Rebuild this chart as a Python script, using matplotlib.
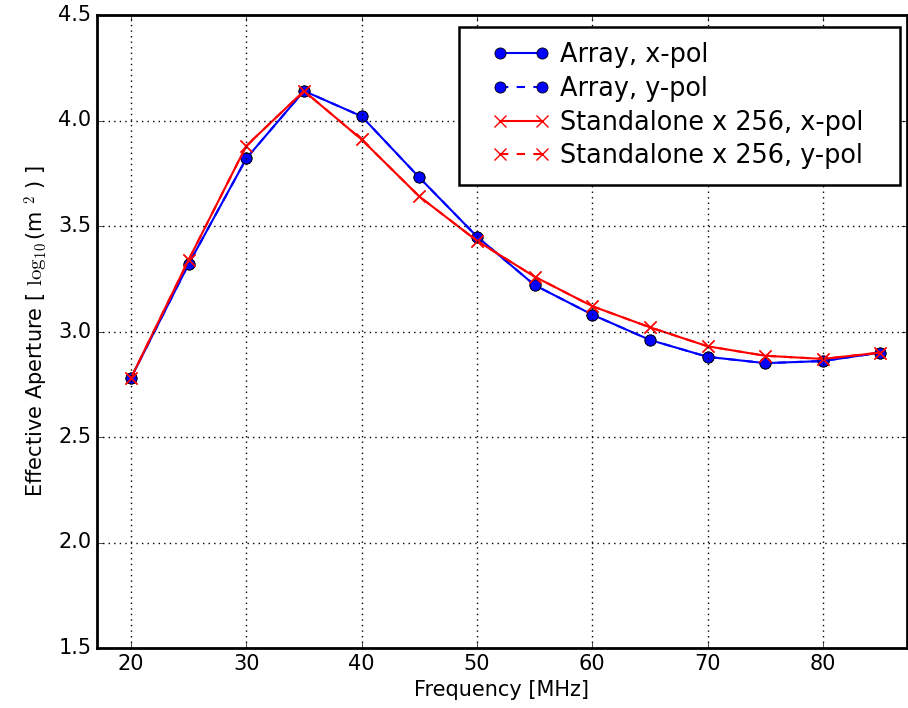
import matplotlib

matplotlib.use("Agg")
import matplotlib.pyplot as plt
from matplotlib.legend_handler import HandlerLine2D

freq_mhz = [20, 25, 30, 35, 40, 45, 50, 55, 60, 65, 70, 75, 80, 85]
array_xpol = [2.78, 3.32, 3.82, 4.14, 4.02, 3.73, 3.45, 3.22, 3.08, 2.96, 2.88, 2.85, 2.86, 2.90]
array_ypol = [2.78, 3.32, 3.82, 4.14, 4.02, 3.73, 3.45, 3.22, 3.08, 2.96, 2.88, 2.85, 2.86, 2.90]
standalone_xpol = [2.78, 3.34, 3.88, 4.14, 3.91, 3.64, 3.43, 3.26, 3.12, 3.02, 2.93, 2.885, 2.87, 2.90]
standalone_ypol = [2.78, 3.34, 3.88, 4.14, 3.91, 3.64, 3.43, 3.26, 3.12, 3.02, 2.93, 2.885, 2.87, 2.90]

plt.style.use("classic")
plt.rcParams["font.family"] = ["DejaVu Sans"]
plt.rcParams["mathtext.fontset"] = "cm"

fig = plt.figure(figsize=(9.08, 7.08), dpi=100, facecolor="white")
ax = fig.add_axes((97 / 908, 60 / 708, 810 / 908, 633 / 708))
ax.set_facecolor("white")

ax.plot(freq_mhz, array_xpol, "o-", color="blue", markeredgecolor="black", markersize=8,
        markeredgewidth=0.6, linewidth=1.5, label="Array, x-pol")
ax.plot(freq_mhz, array_ypol, "o--", color="blue", markeredgecolor="black", markersize=8,
        markeredgewidth=0.6, linewidth=1.5, label="Array, y-pol")
ax.plot(freq_mhz, standalone_xpol, "x-", color="red", markersize=9, markeredgewidth=1.0,
        linewidth=1.5, label="Standalone x 256, x-pol")
ax.plot(freq_mhz, standalone_ypol, "x--", color="red", markersize=9, markeredgewidth=1.0,
        linewidth=1.5, label="Standalone x 256, y-pol")

ax.set_xlim(17.05, 87.3)
ax.set_ylim(1.5, 4.5)
ax.set_xticks([20, 30, 40, 50, 60, 70, 80])
ax.set_yticks([1.5, 2.0, 2.5, 3.0, 3.5, 4.0, 4.5])
ax.tick_params(labelsize=15, direction="in", top=True, right=True)
ax.grid(True, color="black", linestyle=":", linewidth=1.0)
for spine in ax.spines.values():
    spine.set_linewidth(2.0)

ax.set_xlabel("Frequency [MHz]", fontsize=15)
ax.set_ylabel(r"Effective Aperture [ $\log_{10}$(m$\ ^{2}$ ) ]", fontsize=15)

leg = ax.legend(loc="upper right", bbox_to_anchor=(0.447, 0.7346, 0.544, 0.2464), mode="expand",
                borderaxespad=0, numpoints=2, fontsize=18.4, fancybox=False, frameon=True,
                edgecolor="black", framealpha=1, borderpad=0.6, labelspacing=0.3,
                handlelength=3.63, handletextpad=-0.3,
                handler_map={matplotlib.lines.Line2D: HandlerLine2D(marker_pad=1.0)})
leg.get_frame().set_linewidth(1.8)

fig.savefig("out.png", dpi=100, facecolor="white")
